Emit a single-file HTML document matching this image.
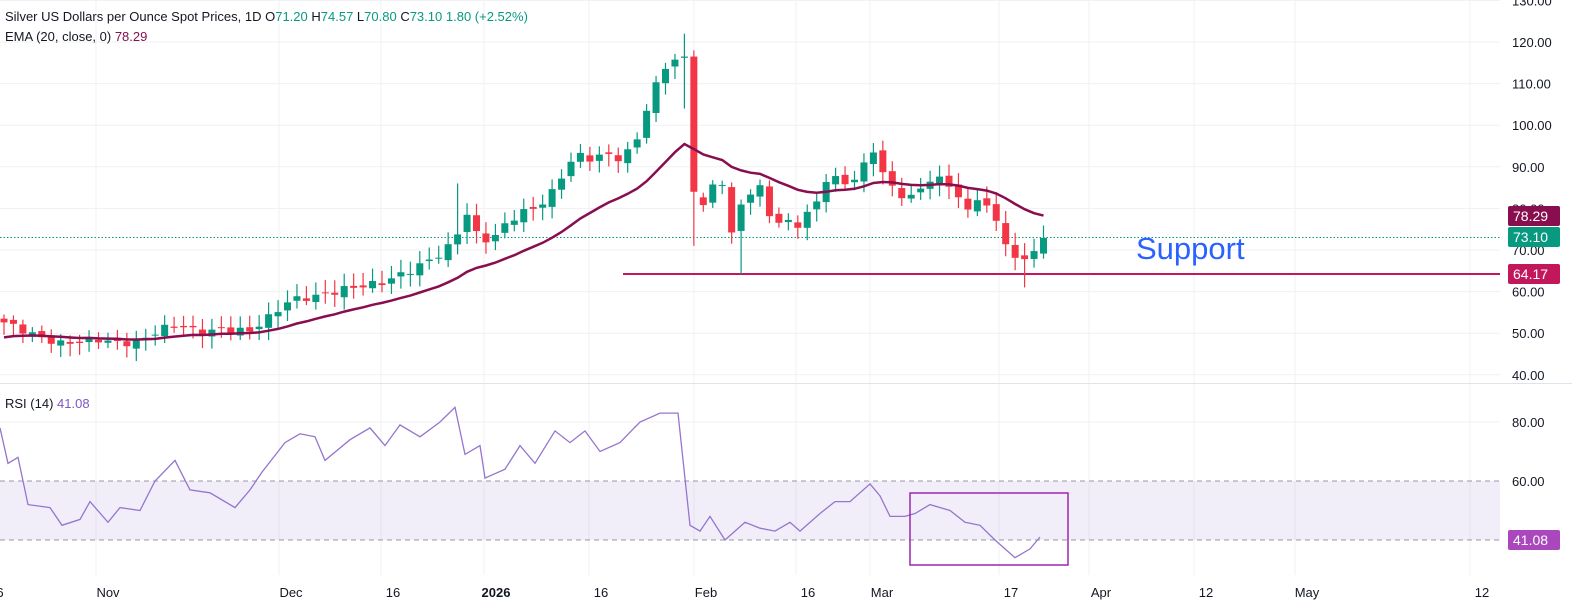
<!DOCTYPE html>
<html><head><meta charset="utf-8"><style>
body{margin:0;background:#fff;font-family:"Liberation Sans",sans-serif;}
svg{display:block}
</style></head><body>
<svg id="s" width="1572" height="606" xmlns="http://www.w3.org/2000/svg" font-family="Liberation Sans, sans-serif">
<g id="grid" stroke="#f0f1f3" stroke-width="1"></g>
<rect x="0" y="481" width="1500" height="59" fill="#7e57c2" fill-opacity="0.1"/>
<line x1="0" y1="481" x2="1500" y2="481" stroke="#9598a1" stroke-dasharray="5,4"/>
<line x1="0" y1="540" x2="1500" y2="540" stroke="#9598a1" stroke-dasharray="5,4"/>
<line x1="0" y1="383.5" x2="1572" y2="383.5" stroke="#e0e3eb"/>
<line x1="0" y1="237.5" x2="1500" y2="237.5" stroke="#089981" stroke-dasharray="1.5,2"/>
<line x1="623" y1="274" x2="1500" y2="274" stroke="#c2185b" stroke-width="2"/>
<g id="candles"></g>
<polyline id="ema" fill="none" stroke="#880e4f" stroke-width="2.5"/>
<polyline id="rsi" fill="none" stroke="#9575cd" stroke-width="1.3"/>
<rect x="910" y="493" width="158" height="72" fill="none" stroke="#9c27b0" stroke-width="1.5"/>
<text x="1136" y="259" font-size="31" fill="#2962ff">Support</text>
<g id="axis" font-size="13" fill="#131722"></g>
<rect x="1508" y="206" width="52" height="20" rx="2" fill="#880e4f"/><text x="1513" y="221" font-size="14" fill="#fff">78.29</text>
<rect x="1508" y="227" width="52" height="20" rx="2" fill="#089981"/><text x="1513" y="242" font-size="14" fill="#fff">73.10</text>
<rect x="1508" y="264" width="52" height="20" rx="2" fill="#c2185b"/><text x="1513" y="279" font-size="14" fill="#fff">64.17</text>
<rect x="1508" y="530" width="52" height="20" rx="2" fill="#ab47bc"/><text x="1513" y="545" font-size="14" fill="#fff">41.08</text>
<text x="5" y="21" font-size="13" fill="#131722">Silver US Dollars per Ounce Spot Prices, 1D  O<tspan fill="#089981">71.20</tspan>  H<tspan fill="#089981">74.57</tspan>  L<tspan fill="#089981">70.80</tspan>  C<tspan fill="#089981">73.10</tspan>  <tspan fill="#089981">1.80 (+2.52%)</tspan></text>
<text x="5" y="41" font-size="13" fill="#131722">EMA (20, close, 0)  <tspan fill="#880e4f">78.29</tspan></text>
<text x="5" y="408" font-size="13" fill="#131722">RSI (14)  <tspan fill="#7e57c2">41.08</tspan></text>
</svg>
<script>
var NS="http://www.w3.org/2000/svg";
function el(p,t,a,txt){var e=document.createElementNS(NS,t);for(var k in a)e.setAttribute(k,a[k]);if(txt)e.textContent=txt;document.getElementById(p).appendChild(e);return e;}
function py(p){return 42+(120-p)*4.16;}
function ry(r){return 422+(80-r)*2.95;}
[130,120,110,100,90,80,70,60,50,40].forEach(function(p){var y=py(p);el("grid","line",{x1:0,x2:1500,y1:y,y2:y});el("axis","text",{x:1512,y:y+5},p.toFixed(2));});
[80].forEach(function(r){var y=ry(r);el("grid","line",{x1:0,x2:1500,y1:y,y2:y});});
[80,60].forEach(function(r){el("axis","text",{x:1512,y:ry(r)+5},r.toFixed(2));});
var dl=[[0,"6"],[108,"Nov"],[291,"Dec"],[393,"16"],[496,"2026"],[601,"16"],[706,"Feb"],[808,"16"],[882,"Mar"],[1011,"17"],[1101,"Apr"],[1206,"12"],[1307,"May"],[1482,"12"]];
dl.forEach(function(d){el("grid","line",{x1:d[0]-12,x2:d[0]-12,y1:0,y2:575});var t=el("axis","text",{x:d[0],y:597,"text-anchor":"middle"},d[1]);if(d[1]=="2026")t.setAttribute("font-weight","bold");});
var kp=[[0,53],[20,51],[40,49],[60,47.5],[80,48],[100,48.5],[120,47.5],[140,48],[160,51],[180,52],[200,50],[220,51],[250,50.5],[270,54],[290,58],[320,59],[350,61],[380,62],[410,65],[440,69],[455,72],[465,80],[475,74],[490,72],[505,76],[520,79],[535,80],[550,83],[560,87],[575,93],[590,92],[605,93],[620,92],[635,95],[645,103],[655,109],[665,114],[676,116],[684,116],[691,84],[701,79],[711,85],[721,88],[732,73],[742,82],[752,84],[762,85],[774,75],[784,78],[794,75],[804,78],[814,80],[826,87],[837,87],[847,86],[860,88],[872,95],[887,86],[898,84],[908,82],[918,84],[928,87],[938,87],[948,86],[958,83],[968,79],[978,83],[988,80],[998,76],[1008,71],[1018,66],[1028,69],[1038,71],[1044,73.1]];
function interp(x){for(var i=0;i<kp.length-1;i++){if(x<=kp[i+1][0]){var a=kp[i],b=kp[i+1],t=(x-a[0])/(b[0]-a[0]);return a[1]+t*(b[1]-a[1]);}}return kp[kp.length-1][1];}
var N=111,cl=[],xs=[];
for(var i=0;i<N;i++){var x=4+i*9.45;xs.push(x);cl.push(interp(x)+(i==N-1||i==72||i==73?0:Math.sin(i*2.3)*0.8));}
var ema=[],k=2/21,e=50;
for(var i=0;i<N;i++){e=i==0?49:e+k*(cl[i]-e);ema.push(e);}
var op=[53.5].concat(cl.slice(0,N-1));
for(var i=0;i<N;i++){var o=op[i]+Math.sin(i*1.7)*0.6,c=cl[i];
if(i==72){o=116.2;c=116.5;}
if(i==73){o=116.5;c=84;}
var hi=Math.max(o,c)+1+Math.abs(Math.sin(i*3.1))*2,lo=Math.min(o,c)-1-Math.abs(Math.cos(i*2.7))*2;
if(i==48)hi=86;if(i==72){hi=122;lo=104;}if(i==73){lo=71;hi=118;}if(i==78)lo=64.2;if(i==108)lo=61;
var col=c>=o?"#089981":"#f23645",x=xs[i];
el("candles","line",{x1:x,x2:x,y1:py(hi),y2:py(lo),stroke:col,"stroke-width":1.2});
var t=py(Math.max(o,c)),b=py(Math.min(o,c));el("candles","rect",{x:x-3.5,y:t,width:7,height:Math.max(1,b-t),fill:col});}
document.getElementById("ema").setAttribute("points",ema.map(function(v,i){return xs[i]+","+py(v).toFixed(1);}).join(" "));
var rk=[[0,78],[8,66],[18,68],[28,52],[50,51],[62,45],[80,47],[90,53],[108,46],[120,51],[140,50],[155,60],[175,67],[190,57],[210,56],[235,51],[250,57],[262,63],[285,73],[300,76],[315,75],[325,67],[350,74],[370,78],[385,72],[400,79],[420,75],[440,80],[455,85],[465,69],[480,72],[485,61],[505,64],[520,72],[535,66],[555,77],[570,73],[585,77],[600,70],[620,73],[640,80],[660,83],[678,83],[690,45],[700,43],[710,48],[725,40],[745,46],[760,44],[775,43],[790,46],[800,43],[820,49],[835,53],[850,53],[870,59],[880,55],[890,48],[905,48],[915,49],[930,52],[950,50],[965,46],[980,45],[995,40],[1015,34],[1030,37],[1040,41]];
document.getElementById("rsi").setAttribute("points",rk.map(function(p){return p[0]+","+ry(p[1]).toFixed(1);}).join(" "));
</script>
</body></html>
